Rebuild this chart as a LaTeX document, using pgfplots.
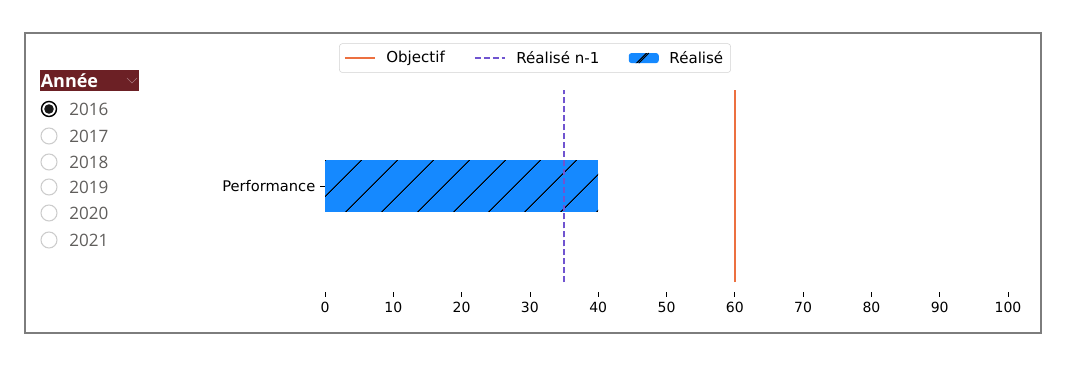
\documentclass[border=0pt]{standalone}
\usepackage{fontspec}
\setmainfont{DejaVu Sans}
\newfontfamily\osans{Open Sans}
\usepackage{pgfplots}
\pgfplotsset{compat=1.18}
\usetikzlibrary{patterns.meta}
\definecolor{objcol}{RGB}{236,112,64}
\definecolor{prevcol}{RGB}{112,84,208}
\definecolor{barcol}{RGB}{21,137,255}
\definecolor{slicerhead}{RGB}{108,32,37}
\definecolor{yeargray}{RGB}{96,94,92}
\definecolor{framegray}{RGB}{125,125,125}
\pgfplotsset{
  linelegend/.style={legend image code/.code={\draw[##1] (0pt,0pt) -- (22.5pt,0pt);}},
  barlegend/.style={legend image code/.code={\fill[barcol] (0pt,-3.75pt) rectangle (22.5pt,3.75pt); \draw[black, line width=0.75pt] (7.5pt,-3.75pt) -- (15pt,3.75pt);}},
}
\begin{document}
\begin{tikzpicture}[x=0.75pt,y=0.75pt]
\fill[white] (0,0) rectangle (1067,367);
\draw[framegray, line width=1.5pt] (25,34) rectangle (1041,334);
% slicer
\fill[slicerhead] (40,276) rectangle (139,297);
\node[anchor=west, inner sep=0pt, text=white, font=\osans\bfseries\fontsize{13.5}{15}\selectfont] at (40.5,286.5) {Année};
\draw[color={rgb,255:red,170;green,120;blue,125}, line width=0.5pt] (127,289) -- (132,284) -- (137,289);
\draw[black, line width=1.1pt] (49,258) circle (7.5);
\fill[black!90] (49,258) circle (4.8);
\foreach \yy in {231,205,180,154,127}{\draw[gray!40, line width=0.8pt] (49,\yy) circle (8);}
\foreach \yy/\lab in {258/2016,231/2017,205/2018,180/2019,154/2020,127/2021}{
  \node[anchor=west, inner sep=0pt, text=yeargray, font=\osans\fontsize{12.8}{14}\selectfont] at (69,\yy) {\lab};}
\begin{axis}[
  at={(243.75pt,56.25pt)}, anchor=south west,
  scale only axis, width=512.25pt, height=151.5pt,
  xmin=0, xmax=100, ymin=-1.656, ymax=1.5,
  axis lines*=left, axis line style={draw=none},
  xtick={0,10,...,100}, ytick={0}, yticklabels={Performance},
  tick align=outside, major tick length=3.75pt,
  tick style={black, line width=0.6pt},
  /pgf/number format/assume math mode=true,
  xticklabel style={font=\fontsize{10.5}{12}\selectfont},
  yticklabel style={font=\fontsize{11}{13}\selectfont},
  legend columns=3,
  legend style={at={(0.3075,1.158)}, anchor=center, draw=gray!35, rounded corners=2pt,
    font=\fontsize{11.3}{13}\selectfont, inner xsep=3.5pt, inner ysep=3.5pt,
    /tikz/every odd column/.append style={column sep=6pt},
    /tikz/every even column/.append style={column sep=20pt}},
]
\addplot[objcol, line width=1.1pt, linelegend] coordinates {(60,-1.5) (60,1.5)};
\addlegendentry{Objectif}
\addplot[prevcol, line width=1.1pt, dash pattern=on 4.5pt off 2.2pt, linelegend] coordinates {(35,-1.5) (35,1.5)};
\addlegendentry{Réalisé n-1}
\addplot[xbar, bar width=0.8, fill=barcol, draw=none,
  postaction={pattern color=black, pattern={Lines[angle=45,distance=19.5pt,line width=0.8pt]}},
  barlegend]
  coordinates {(40,0)};
\addlegendentry{Réalisé}
\addplot[prevcol, line width=1.1pt, dash pattern=on 4.5pt off 2.2pt, forget plot] coordinates {(35,-1.5) (35,1.5)};
\end{axis}
\end{tikzpicture}
\end{document}
